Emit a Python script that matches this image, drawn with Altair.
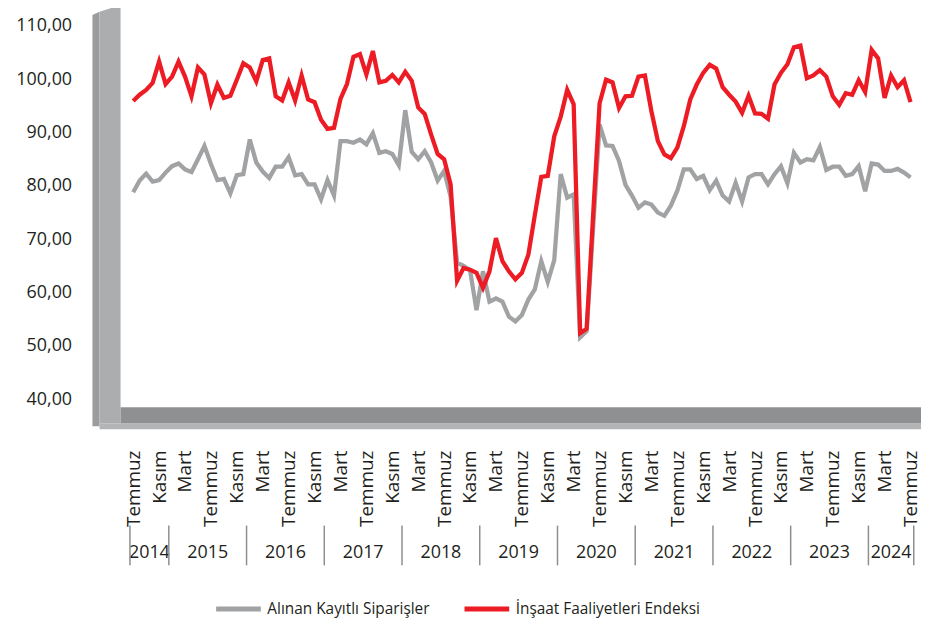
import json
import altair as alt
import pandas as pd

# ---------------- data ----------------
grey_name = "Alınan Kayıtlı Siparişler"
red_name = "İnşaat Faaliyetleri Endeksi"

# monthly, July 2014 .. July 2024 (121 months)
grey_values = [
    78.8, 81.0, 82.3, 80.8, 81.1, 82.5, 83.7, 84.2, 83.1, 82.6,
    85.0, 87.5, 84.1, 81.1, 81.3, 78.6, 82.0, 82.2, 88.7, 84.4,
    82.7, 81.5, 83.6, 83.6, 85.4, 82.0, 82.2, 80.3, 80.3, 77.5,
    81.1, 78.2, 88.4, 88.4, 88.1, 88.7, 87.8, 89.9, 86.2, 86.5,
    86.0, 83.9, 94.2, 86.4, 85.0, 86.5, 84.4, 81.0, 82.8, 78.0,
    65.6, 65.0, 64.2, 56.7, 64.0, 58.3, 58.9, 58.3, 55.5, 54.6,
    55.8, 58.7, 60.6, 65.9, 62.0, 66.1, 82.2, 77.8, 78.4, 51.6,
    52.8, 72.0, 91.5, 87.6, 87.5, 84.7, 80.2, 78.2, 75.9, 76.9,
    76.5, 75.0, 74.4, 76.3, 79.1, 83.1, 83.1, 81.3, 81.9, 79.2,
    81.0, 78.2, 77.1, 80.6, 77.1, 81.6, 82.2, 82.2, 80.3, 82.2,
    83.7, 80.5, 86.2, 84.4, 85.0, 84.8, 87.3, 83.0, 83.6, 83.6,
    81.9, 82.2, 83.7, 79.0, 84.2, 84.0, 82.8, 82.8, 83.2, 82.5,
    81.6,
]
red_values = [
    95.9, 97.1, 98.0, 99.3, 103.3, 99.1, 100.5, 103.3, 100.5, 96.8,
    102.2, 100.9, 95.5, 99.0, 96.5, 96.9, 99.9, 103.0, 102.2, 99.6,
    103.6, 103.9, 96.8, 96.0, 99.4, 96.0, 100.7, 96.2, 95.7, 92.4,
    90.7, 90.9, 96.3, 99.1, 104.2, 104.7, 100.9, 105.3, 99.4, 99.7,
    100.8, 99.4, 101.4, 99.7, 94.7, 93.5, 89.6, 86.0, 85.0, 80.3,
    62.2, 64.6, 64.3, 63.7, 60.9, 64.0, 70.2, 65.9, 64.0, 62.5,
    63.7, 67.1, 74.5, 81.7, 81.9, 89.3, 93.0, 98.0, 95.3, 52.4,
    53.2, 74.5, 95.5, 99.9, 99.4, 94.6, 96.8, 96.9, 100.5, 100.7,
    94.0, 88.4, 85.9, 85.2, 87.2, 91.2, 96.2, 99.0, 101.2, 102.7,
    102.0, 98.5, 97.1, 95.8, 93.7, 96.9, 93.6, 93.5, 92.6, 99.0,
    101.2, 102.8, 106.0, 106.3, 100.2, 100.7, 101.7, 100.5, 96.8, 95.2,
    97.4, 97.1, 99.8, 97.6, 105.5, 103.9, 96.5, 100.7, 98.5, 99.8,
    95.7,
]
month_index = list(range(len(red_values)))

tick_values = list(range(0, 121, 4))
tick_labels = ["Temmuz", "Kasım", "Mart"] * 10 + ["Temmuz"]

y_ticks = [40, 50, 60, 70, 80, 90, 100, 110]

years = ["2014", "2015", "2016", "2017", "2018", "2019",
         "2020", "2021", "2022", "2023", "2024"]
year_bounds = [-0.5, 5.5, 17.5, 29.5, 41.5, 53.5, 65.5, 77.5, 89.5,
               101.5, 113.5, 120.5]

# ---------------- tables ----------------
lines_df = pd.DataFrame({
    "i": month_index * 2,
    "v": grey_values + red_values,
    "s": [grey_name] * len(grey_values) + [red_name] * len(red_values),
})
years_df = pd.DataFrame({
    "year": years,
    "c": [(a + b) / 2 for a, b in zip(year_bounds[:-1], year_bounds[1:])],
})
bounds_df = pd.DataFrame({"b": year_bounds})

# 3D wall / floor decoration (in scale units)
wall_df = pd.DataFrame([
    {"x": -6.29, "top": 112.05, "bot": 34.95, "c": "#9A9C9E"},
    {"x": -5.2, "top": 112.65, "bot": 34.95, "c": "#9A9C9E"},
    {"x": -5.2, "top": 112.65, "bot": 35.5, "c": "#ABADAF"},
    {"x": -1.95, "top": 113.9, "bot": 35.5, "c": "#ABADAF"},
])
floor_df = pd.DataFrame([
    {"x": -5.2, "x2": 121.62, "y": 34.39, "y2": 35.5, "c": "#B3B4B6"},
    {"x": -1.95, "x2": 121.62, "y": 35.5, "y2": 38.49, "c": "#8E9092"},
])

# ---------------- chart ----------------
FONT = "Open Sans"
TXT = "#231F20"
x_scale = alt.Scale(domain=[-6.29, 121.62], nice=False, zero=False)
y_scale = alt.Scale(domain=[34.39, 112.98], nice=False, zero=False)

label_arr = json.dumps(tick_labels, ensure_ascii=False)
x_axis = alt.Axis(
    values=tick_values, labelExpr=f"{label_arr}[round(datum.value/4)]",
    labelAngle=270, labelAlign="right", labelBaseline="middle",
    labelPadding=21, labelFontSize=19, labelFont=FONT, labelColor=TXT,
    labelOverlap=False, labelFlush=False, labelBound=False,
    domain=False, ticks=False, grid=False, title=None,
)
y_axis = alt.Axis(
    values=y_ticks,
    labelExpr="replace(format(datum.value, '.2f'), '.', ',')",
    labelPadding=21, labelFontSize=18, labelFont=FONT, labelColor=TXT,
    labelOverlap=False, domain=False, ticks=False, grid=False, title=None,
)

wall = alt.Chart(wall_df).mark_area().encode(
    x=alt.X("x:Q", scale=x_scale, axis=x_axis),
    y=alt.Y("top:Q", scale=y_scale, axis=y_axis, stack=None),
    y2="bot",
    fill=alt.Fill("c:N", scale=None),
)
floor = alt.Chart(floor_df).mark_rect().encode(
    x=alt.X("x:Q", scale=x_scale, axis=x_axis),
    x2="x2",
    y=alt.Y("y:Q", scale=y_scale, axis=y_axis),
    y2="y2",
    fill=alt.Fill("c:N", scale=None),
)

color = alt.Color(
    "s:N",
    scale=alt.Scale(domain=[grey_name, red_name], range=["#A0A2A4", "#ED1C24"]),
    legend=alt.Legend(
        title=None, orient="none", direction="horizontal",
        legendX=122, legendY=578,
        symbolType="stroke", symbolSize=2025, symbolStrokeWidth=5,
        labelFontSize=15.5, labelFont=FONT, labelColor=TXT, labelOffset=4,
        labelLimit=0, columnPadding=24,
    ),
)

base = alt.Chart(lines_df).mark_line(strokeWidth=4.3).encode(
    x=alt.X("i:Q", scale=x_scale, axis=x_axis),
    y=alt.Y("v:Q", scale=y_scale, axis=y_axis),
    color=color,
)
grey_line = base.transform_filter(alt.datum.s == grey_name)
red_line = base.transform_filter(alt.datum.s == red_name)

year_text = alt.Chart(years_df).mark_text(
    fontSize=18, font=FONT, color=TXT, baseline="middle"
).encode(
    x=alt.X("c:Q", scale=x_scale, axis=x_axis),
    y=alt.value(547),
    text="year:N",
)
year_rules = alt.Chart(bounds_df).mark_rule(color="#8C8E90", strokeWidth=1.5).encode(
    x=alt.X("b:Q", scale=x_scale, axis=x_axis),
    y=alt.value(519),
    y2=alt.value(559),
)

chart = alt.layer(wall, floor, grey_line, red_line, year_text, year_rules).properties(
    width=834, height=422,
    padding={"left": 85, "top": 0, "right": 2, "bottom": 188},
    autosize=alt.AutoSizeParams(type="none"),
).configure(font=FONT).configure_view(stroke=None)

chart.save("out.html", embed_options={"renderer": "svg", "actions": False})
